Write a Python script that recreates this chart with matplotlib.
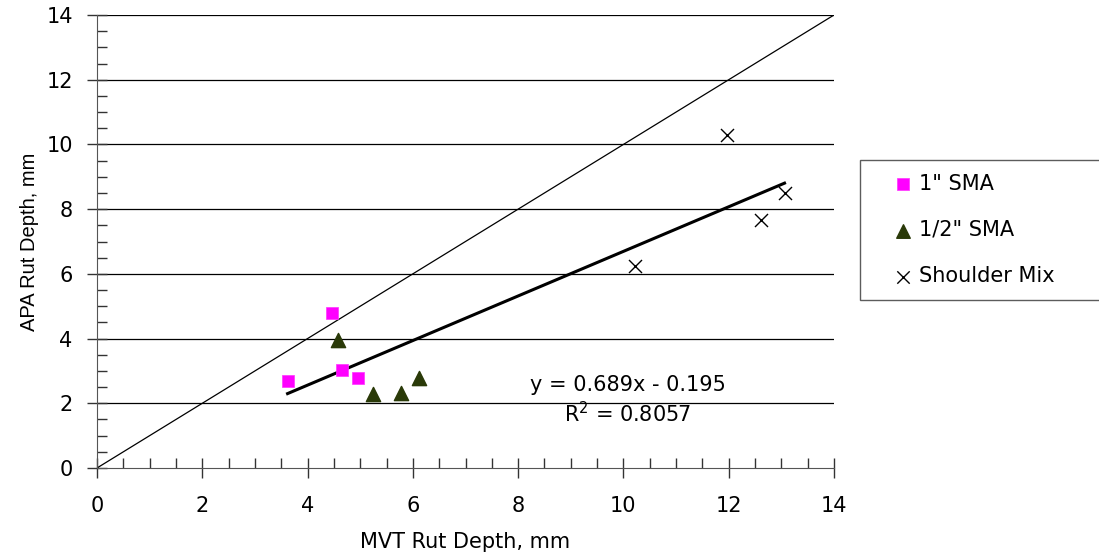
import numpy as np
import matplotlib.pyplot as plt
from matplotlib.ticker import MultipleLocator

plt.rcParams['font.family'] = ['DejaVu Sans']

# data
sma1_x = [3.62, 4.46, 4.66, 4.96]
sma1_y = [2.69, 4.78, 3.03, 2.77]
sma12_x = [4.57, 5.24, 5.78, 6.12]
sma12_y = [3.97, 2.28, 2.33, 2.77]
shoulder_x = [10.22, 11.96, 12.61, 13.06]
shoulder_y = [6.24, 10.29, 7.66, 8.49]
slope = 0.689
intercept = -0.195

fig = plt.figure(figsize=(10.99, 5.54), dpi=100)
ax = fig.add_axes([97/1099, (554-468)/554, (834-97)/1099, (468-15)/554])

ax.set_xlim(0, 14)
ax.set_ylim(0, 14)
for yv in range(2, 15, 2):
    ax.axhline(yv, color='black', lw=0.9, zorder=1)
ax.plot([0, 14], [0, 14], color='black', lw=0.9, zorder=2)

# linear trendline over the data range
all_x = sma1_x + sma12_x + shoulder_x
fx = np.array([min(all_x), max(all_x)])
ax.plot(fx, slope * fx + intercept, color='black', lw=2.2, zorder=3)

ax.scatter(sma1_x, sma1_y, marker='s', s=83, color='#ff00ff', edgecolors='#ff33ff', linewidths=0.5,
           zorder=4, label='1" SMA')
ax.scatter(sma12_x, sma12_y, marker='^', s=105, color='#2a3a08', edgecolors='#2a3a08',
           zorder=4, label='1/2" SMA')
ax.scatter(shoulder_x, shoulder_y, marker='x', s=88, color='black', linewidths=1.0,
           zorder=4, label='Shoulder Mix')

ax.text(0.72, 0.183, 'y = 0.689x - 0.195', transform=ax.transAxes, ha='center', va='center', fontsize=15)
ax.text(0.72, 0.121, 'R$^2$ = 0.8057', transform=ax.transAxes, ha='center', va='center', fontsize=15)

ax.spines['top'].set_visible(False)
ax.spines['right'].set_visible(False)
ax.spines['left'].set_color('#555555')
ax.spines['bottom'].set_color('#555555')

ax.xaxis.set_major_locator(MultipleLocator(2))
ax.yaxis.set_major_locator(MultipleLocator(2))
ax.xaxis.set_minor_locator(MultipleLocator(0.5))
ax.yaxis.set_minor_locator(MultipleLocator(0.5))
ax.tick_params(which='major', direction='inout', length=14, width=1, color='#333333', labelsize=15)
ax.tick_params(axis='x', which='major', pad=13.5)
ax.tick_params(axis='y', which='major', pad=10.5)
ax.tick_params(which='minor', direction='in', length=7, width=1, color='#333333')

ax.set_xlabel('MVT Rut Depth, mm', fontsize=15, labelpad=11)
ax.set_ylabel('APA Rut Depth, mm', fontsize=14.5, labelpad=5, family='Liberation Sans')

# legend box runs off the right edge like the original
leg = ax.legend(loc='upper left', bbox_to_anchor=(860/1099, 1 - 160/554 - 0.01, 250/1099, 0.01),
                bbox_transform=fig.transFigure, mode='expand', fontsize=15,
                frameon=True, fancybox=False, edgecolor='#333333', borderpad=0.65,
                labelspacing=1.27, handletextpad=-0.6, handlelength=2.8, markerscale=0.95,
                borderaxespad=0)
leg.get_frame().set_linewidth(1.0)

fig.savefig('out.png', dpi=100)
